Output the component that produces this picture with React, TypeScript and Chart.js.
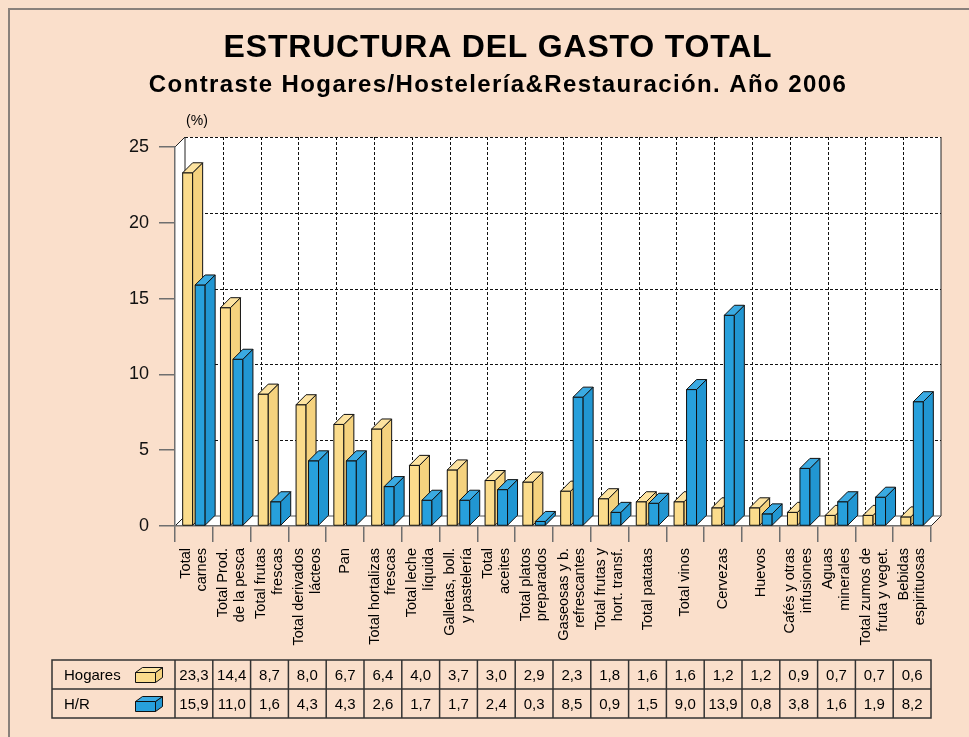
import React, { useEffect, useRef } from 'react';
import { Chart, registerables } from 'chart.js';

Chart.register(...registerables);

const TITLE = 'ESTRUCTURA DEL GASTO TOTAL';
const SUBTITLE = 'Contraste Hogares/Hostelería&Restauración. Año 2006';
const UNIT = '(%)';

const categories: string[][] = [
  ['Total', 'carnes'],
  ['Total Prod.', 'de la pesca'],
  ['Total frutas', 'frescas'],
  ['Total derivados', 'lácteos'],
  ['Pan'],
  ['Total hortalizas', 'frescas'],
  ['Total leche', 'líquida'],
  ['Galletas, boll.', 'y pastelería'],
  ['Total', 'aceites'],
  ['Total platos', 'preparados'],
  ['Gaseosas y b.', 'refrescantes'],
  ['Total frutas y', 'hort. transf.'],
  ['Total patatas'],
  ['Total vinos'],
  ['Cervezas'],
  ['Huevos'],
  ['Cafés y otras', 'infusiones'],
  ['Aguas', 'minerales'],
  ['Total zumos de', 'fruta y veget.'],
  ['Bebidas', 'espirituosas'],
];

const seriesNames = ['Hogares', 'H/R'];
const hogares = [23.3, 14.4, 8.7, 8.0, 6.7, 6.4, 4.0, 3.7, 3.0, 2.9, 2.3, 1.8, 1.6, 1.6, 1.2, 1.2, 0.9, 0.7, 0.7, 0.6];
const hr = [15.9, 11.0, 1.6, 4.3, 4.3, 2.6, 1.7, 1.7, 2.4, 0.3, 8.5, 0.9, 1.5, 9.0, 13.9, 0.8, 3.8, 1.6, 1.9, 8.2];
const yTicks = [0, 5, 10, 15, 20, 25];

const W = 969;
const H = 737;
const DX = 10;
const DY = 10;
const BG = '#fadfcb';
const FONT = '"Liberation Sans", Arial, sans-serif';
const YEL = { front: '#fbdc8c', side: '#f5d27e', top: '#fde3a0' };
const BLU = { front: '#27a0dc', side: '#2196d2', top: '#3aaae2' };
const COLORS = [YEL, BLU];

type Pt = [number, number];

function poly(ctx: CanvasRenderingContext2D, pts: Pt[], fill: string | null, stroke: string | null, lw = 1) {
  ctx.beginPath();
  ctx.moveTo(pts[0][0], pts[0][1]);
  for (let i = 1; i < pts.length; i++) ctx.lineTo(pts[i][0], pts[i][1]);
  ctx.closePath();
  if (fill) {
    ctx.fillStyle = fill;
    ctx.fill();
  }
  if (stroke) {
    ctx.strokeStyle = stroke;
    ctx.lineWidth = lw;
    ctx.stroke();
  }
}

function line(ctx: CanvasRenderingContext2D, x1: number, y1: number, x2: number, y2: number) {
  ctx.beginPath();
  ctx.moveTo(x1, y1);
  ctx.lineTo(x2, y2);
  ctx.stroke();
}

function box3d(ctx: CanvasRenderingContext2D, l: number, t: number, w: number, h: number, dx: number, dy: number, c: { front: string; side: string; top: string }) {
  const r = l + w;
  const b = t + h;
  ctx.lineJoin = 'miter';
  poly(ctx, [[l, t], [r, t], [r, b], [l, b]], c.front, '#111', 1);
  poly(ctx, [[r, t], [r + dx, t - dy], [r + dx, b - dy], [r, b]], c.side, '#111', 1);
  poly(ctx, [[l, t], [l + dx, t - dy], [r + dx, t - dy], [r, t]], c.top, '#111', 1);
}

function boundaries(chart: any): number[] {
  const xs = chart.scales.x;
  const a = chart.chartArea;
  const n = categories.length;
  const out: number[] = [a.left];
  for (let i = 0; i < n - 1; i++) {
    out.push((xs.getPixelForValue(i) + xs.getPixelForValue(i + 1)) / 2);
  }
  out.push(a.right);
  return out;
}

const decoPlugin = {
  id: 'deco3d',
  beforeDraw(chart: any) {
    const ctx: CanvasRenderingContext2D = chart.ctx;
    const a = chart.chartArea;
    const ys = chart.scales.y;
    const L = a.left, R = a.right, T = a.top, B = a.bottom;
    ctx.save();
    ctx.fillStyle = BG;
    ctx.fillRect(0, 0, W, H);
    ctx.strokeStyle = '#8a817b';
    ctx.lineWidth = 2;
    ctx.strokeRect(9, 9, W + 60, H + 60);

    // walls
    ctx.fillStyle = '#ffffff';
    ctx.fillRect(L + DX, T - DY, R - L, B - T);
    poly(ctx, [[L, T], [L + DX, T - DY], [L + DX, B - DY], [L, B]], '#ffffff', null);
    poly(ctx, [[L, B], [L + DX, B - DY], [R + DX, B - DY], [R, B]], '#ffffff', null);

    // dashed grid on back wall
    ctx.strokeStyle = '#111';
    ctx.lineWidth = 1;
    ctx.setLineDash([3, 2]);
    for (const v of yTicks) {
      if (v === 0) continue;
      const y = Math.round(ys.getPixelForValue(v) - DY) + 0.5;
      line(ctx, L + DX, y, R + DX, y);
    }
    const bs = boundaries(chart);
    for (let i = 1; i < bs.length - 1; i++) {
      const x = Math.round(bs[i] + DX) + 0.5;
      line(ctx, x, T - DY, x, B - DY);
    }
    ctx.setLineDash([]);
    // solid edges
    ctx.strokeStyle = '#222';
    line(ctx, R + DX, T - DY, R + DX, B - DY);
    line(ctx, L + DX, T - DY, L + DX, B - DY);
    line(ctx, L, T, L + DX, T - DY);
    line(ctx, L, B, L + DX, B - DY);
    line(ctx, R, B, R + DX, B - DY);
    ctx.strokeStyle = '#555';
    line(ctx, L + DX, B - DY, R + DX, B - DY);
    ctx.restore();
  },
  afterDatasetsDraw(chart: any) {
    const ctx: CanvasRenderingContext2D = chart.ctx;
    const metas = [chart.getDatasetMeta(0), chart.getDatasetMeta(1)];
    ctx.save();
    for (let i = 0; i < categories.length; i++) {
      for (let d = 0; d < metas.length; d++) {
        const el = metas[d].data[i];
        const p = el.getProps(['x', 'y', 'base', 'width'], true);
        const l = p.x - p.width / 2;
        box3d(ctx, l, p.y, p.width, p.base - p.y, DX, DY, COLORS[d]);
      }
    }
    ctx.restore();
  },
  afterDraw(chart: any) {
    const ctx: CanvasRenderingContext2D = chart.ctx;
    const a = chart.chartArea;
    const xs = chart.scales.x;
    ctx.save();
    ctx.fillStyle = '#000';

    // titles
    ctx.textAlign = 'center';
    ctx.textBaseline = 'alphabetic';
    ctx.font = `bold 32px ${FONT}`;
    (ctx as any).letterSpacing = '0.8px';
    ctx.fillText(TITLE, 498, 57);
    ctx.font = `bold 24px ${FONT}`;
    (ctx as any).letterSpacing = '1.4px';
    ctx.fillText(SUBTITLE, 498, 92);
    (ctx as any).letterSpacing = '0px';

    ctx.font = `14px ${FONT}`;
    ctx.textBaseline = 'middle';
    ctx.fillText(UNIT, 197, 121);

    // x category labels
    ctx.font = `14.5px ${FONT}`;
    for (let i = 0; i < categories.length; i++) {
      const cx = xs.getPixelForValue(i);
      const lines = categories[i];
      const n = lines.length;
      for (let j = 0; j < n; j++) {
        const lx = cx + (j - (n - 1) / 2) * 16.5;
        ctx.save();
        ctx.translate(lx, 548);
        ctx.rotate(-Math.PI / 2);
        ctx.textAlign = 'right';
        ctx.textBaseline = 'middle';
        ctx.fillText(lines[j], 0, 0);
        ctx.restore();
      }
    }

    // data table
    const bs = boundaries(chart);
    const tl = 52, tt = 660, tm = 689, tb = 718;
    ctx.strokeStyle = '#333';
    ctx.lineWidth = 1.5;
    ctx.strokeRect(tl, tt, a.right - tl, tb - tt);
    line(ctx, tl, tm, a.right, tm);
    for (let i = 0; i < bs.length - 1; i++) line(ctx, bs[i], tt, bs[i], tb);

    ctx.font = `15px ${FONT}`;
    ctx.textBaseline = 'middle';
    const rows = [hogares, hr];
    const rowY = [(tt + tm) / 2, (tm + tb) / 2];
    for (let r = 0; r < rows.length; r++) {
      ctx.textAlign = 'left';
      ctx.fillStyle = '#000';
      ctx.fillText(seriesNames[r], 64, rowY[r] + 1);
      box3d(ctx, 135.5, rowY[r] - 2, 20, 10, 7, 5, COLORS[r]);
      ctx.textAlign = 'center';
      ctx.fillStyle = '#000';
      for (let i = 0; i < rows[r].length; i++) {
        const cx = (bs[i] + bs[i + 1]) / 2;
        ctx.fillText(rows[r][i].toFixed(1).replace('.', ','), cx, rowY[r] + 1);
      }
    }
    ctx.restore();
  },
};

export default function App() {
  const ref = useRef<HTMLCanvasElement | null>(null);
  useEffect(() => {
    if (!ref.current) return;
    Chart.defaults.font.family = FONT;
    const chart = new Chart(ref.current, {
      type: 'bar',
      data: {
        labels: categories,
        datasets: [
          { label: seriesNames[0], data: hogares, backgroundColor: YEL.front, borderWidth: 0, barPercentage: 0.8, categoryPercentage: 0.66 },
          { label: seriesNames[1], data: hr, backgroundColor: BLU.front, borderWidth: 0, barPercentage: 0.8, categoryPercentage: 0.66 },
        ],
      },
      options: {
        responsive: false,
        maintainAspectRatio: false,
        animation: false,
        layout: { padding: { left: 0, top: 147, right: 38, bottom: 195 } },
        plugins: {
          legend: { display: false },
          title: { display: false },
          tooltip: { enabled: false },
        },
        scales: {
          x: {
            offset: true,
            grid: { offset: true, drawOnChartArea: false, drawTicks: true, tickLength: 16, color: '#6f6f6f', lineWidth: 1.5 },
            border: { display: true, color: '#6f6f6f', width: 1.5 },
            ticks: { display: false },
            afterFit: (s: any) => { s.height = 16; },
          },
          y: {
            min: 0,
            max: 25,
            ticks: { stepSize: 5, color: '#111', padding: 10, font: { size: 18, family: FONT } },
            grid: { drawOnChartArea: false, drawTicks: true, tickLength: 16, color: '#6f6f6f', lineWidth: 1.5 },
            border: { display: true, color: '#6f6f6f', width: 1.5 },
            afterFit: (s: any) => { s.width = 175; },
          },
        },
      },
      plugins: [decoPlugin],
    });
    return () => chart.destroy();
  }, []);
  return (
    <div style={{ position: 'absolute', left: 0, top: 0, width: W, height: H }}>
      <canvas ref={ref} width={W} height={H} style={{ display: 'block' }} />
    </div>
  );
}
